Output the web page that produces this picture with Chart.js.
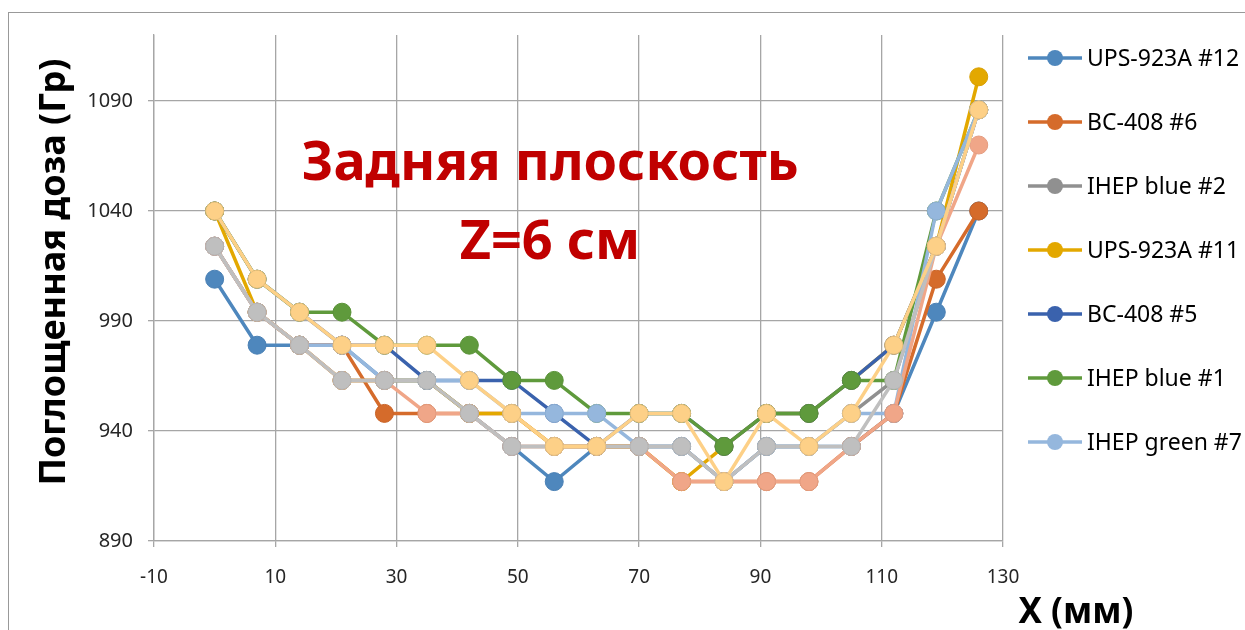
<!DOCTYPE html>
<html>
<head>
<meta charset="utf-8">
<title>Задняя плоскость</title>
<script src="https://cdn.jsdelivr.net/npm/chart.js@4.4.1/dist/chart.umd.min.js"></script>
<style>
  body { margin: 0; background: #fff; overflow: hidden; }
  #wrap { position: relative; width: 1245px; height: 630px; overflow: hidden; }
  #frame { position: absolute; left: 8px; top: 12px; width: 1300px; height: 700px; border: 1px solid #999; }
  canvas { position: absolute; left: 0; top: 0; }
</style>
</head>
<body>
<div id="wrap">
  <div id="frame"></div>
  <canvas id="doseChart" width="1245" height="630"></canvas>
</div>
<script>
// positions along X, mm
var xPos = [0, 7, 14, 21, 28, 35, 42, 49, 56, 63, 70, 77, 84, 91, 98, 105, 112, 119, 126];
var yTicks = [890, 940, 990, 1040, 1090];

var seriesNames = ['UPS-923A #12', 'BC-408 #6', 'IHEP blue #2', 'UPS-923A #11', 'BC-408 #5',
                   'IHEP blue #1', 'IHEP green #7', 'Серия 8', 'Серия 9', 'Серия 10'];

// absorbed dose, Gy
var ups12      = [1009, 979, 979, 979, 963, 963, 948, 933, 917, 933, 933, 933, 917, 933, 933, 933, 948, 994, 1040];
var bc6        = [1024, 994, 979, 979, 948, 948, 948, 948, 933, 933, 933, 917, 917, 917, 917, 933, 948, 1009, 1040];
var ihepBlue2  = [1024, 994, 979, 963, 963, 963, 948, 933, 933, 933, 933, 933, 917, 933, 933, 948, 963, 1024, 1086];
var ups11      = [1040, 994, 979, 963, 963, 963, 948, 948, 933, 933, 933, 917, 933, 948, 948, 963, 979, 1024, 1101];
var bc5        = [1040, 1009, 994, 979, 979, 963, 963, 963, 948, 933, 948, 948, 933, 948, 948, 963, 979, 1024, 1086];
var ihepBlue1  = [1040, 1009, 994, 994, 979, 979, 979, 963, 963, 948, 948, 948, 933, 948, 948, 963, 963, 1040, 1086];
var ihepGreen7 = [1024, 994, 979, 979, 963, 963, 963, 948, 948, 948, 933, 933, 917, 933, 933, 948, 948, 1040, 1086];
var series8    = [1024, 994, 979, 963, 963, 948, 948, 933, 933, 933, 933, 917, 917, 917, 917, 933, 948, 1024, 1070];
var series9    = [1024, 994, 979, 963, 963, 963, 948, 933, 933, 933, 933, 933, 917, 933, 933, 933, 963, 1024, 1086];
var series10   = [1040, 1009, 994, 979, 979, 979, 963, 948, 933, 933, 948, 948, 917, 948, 933, 948, 979, 1024, 1086];

var allSeries = [ups12, bc6, ihepBlue2, ups11, bc5, ihepBlue1, ihepGreen7, series8, series9, series10];
var colors = ['#4e87bd', '#d56b2b', '#909090', '#e3a800', '#3a62ad', '#5f9a3c', '#95b7dd', '#f0a688', '#bfbfbf', '#fdd087'];
var edges  = ['#4a80b4', '#c96428', '#888888', '#d89f00', '#365ca3', '#5a9238', '#8dafd3', '#e49c80', '#b4b4b4', '#e9bf7c'];
var legendCount = 7;

var axisGray = '#a6a6a6';
var tickColor = '#262626';

var datasets = allSeries.map(function(vals, i) {
  return {
    label: seriesNames[i],
    data: vals.map(function(v, j) { return { x: xPos[j], y: v }; }),
    borderColor: colors[i],
    backgroundColor: colors[i],
    borderWidth: 3.5,
    pointRadius: 9,
    pointBorderWidth: 1,
    pointBorderColor: edges[i],
    order: allSeries.length - i   // later series on top
  };
});

// captions, axis titles and the legend
var extras = {
  id: 'extras',
  afterDraw: function(chart) {
    var ctx = chart.ctx;
    ctx.save();
    ctx.textAlign = 'center';
    ctx.textBaseline = 'alphabetic';
    ctx.fillStyle = '#c00000';
    ctx.font = 'bold 54px "Noto Sans"';
    ctx.fillText('Задняя плоскость', 550, 180);
    ctx.fillText('Z=6 см', 550, 259);

    ctx.fillStyle = '#000';
    ctx.font = 'bold 35px "Noto Sans"';
    ctx.fillText('X (мм)', 1076, 623);

    ctx.save();
    ctx.translate(55, 272);
    ctx.rotate(-Math.PI / 2);
    ctx.textBaseline = 'middle';
    ctx.font = 'bold 36px "Noto Sans"';
    ctx.fillText('Поглощенная доза (Гр)', 0, 0);
    ctx.restore();

    ctx.textAlign = 'left';
    ctx.textBaseline = 'middle';
    ctx.font = '23px "Noto Sans"';
    for (var i = 0; i < legendCount; i++) {
      var ds = chart.data.datasets[i];
      var y = 58 + i * 64;
      ctx.strokeStyle = ds.borderColor;
      ctx.lineWidth = 3.5;
      ctx.beginPath();
      ctx.moveTo(1028, y);
      ctx.lineTo(1082, y);
      ctx.stroke();
      ctx.fillStyle = ds.backgroundColor;
      ctx.beginPath();
      ctx.arc(1055, y, 8, 0, Math.PI * 2);
      ctx.fill();
      ctx.fillStyle = '#000';
      ctx.fillText(ds.label, 1087, y + 1);
    }
    ctx.restore();
  }
};

new Chart(document.getElementById('doseChart'), {
  type: 'line',
  data: { datasets: datasets },
  options: {
    responsive: false,
    animation: false,
    layout: { padding: { top: 35, right: 242, left: 0, bottom: 0 } },
    plugins: {
      legend: { display: false },
      tooltip: { enabled: false }
    },
    scales: {
      x: {
        type: 'linear',
        min: -10,
        max: 130,
        ticks: { stepSize: 20, color: tickColor, font: { family: 'Noto Sans', size: 19 }, padding: 19, maxRotation: 0,
                 callback: function(v) { return String(v); } },
        grid: { color: axisGray, lineWidth: 1.3, tickLength: 6 },
        border: { color: axisGray, width: 1.3 },
        afterFit: function(s) { s.height = 89; }
      },
      y: {
        min: 890,
        max: 1120,
        afterBuildTicks: function(s) { s.ticks = yTicks.map(function(v) { return { value: v }; }); },
        ticks: { color: tickColor, font: { family: 'Noto Sans', size: 20 }, padding: 15,
                 callback: function(v) { return String(v); } },
        grid: { color: axisGray, lineWidth: 1.3, tickLength: 6 },
        border: { color: axisGray, width: 1.3 },
        afterFit: function(s) { s.width = 154; }
      }
    }
  },
  plugins: [extras]
});
</script>
</body>
</html>
